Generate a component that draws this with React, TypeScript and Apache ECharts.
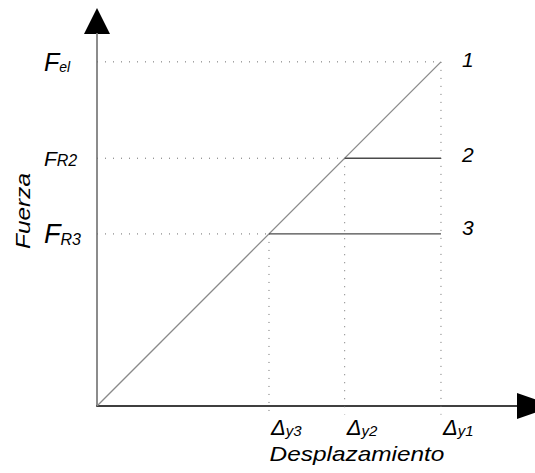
import React, { useEffect, useRef } from 'react';
import * as echarts from 'echarts';

// Curve numbers (1 = elastic, 2 and 3 = elastic-plastic)
const curveIds = ['1', '2', '3'];
// Yield displacements Δy1, Δy2, Δy3 (relative)
const displacement = [1.0, 0.72, 0.5];
// Forces Fel, FR2, FR3 (relative)
const force = [1.0, 0.72, 0.5];
const dispSubs = ['y1', 'y2', 'y3'];
const forceSubs = ['el', 'R2', 'R3'];
const xAxisMax = 1.221;
const yAxisMax = 1.081;
const guideDrop = -0.025;

const FONT = '"Liberation Sans", Arial, sans-serif';

export default function App() {
  const ref = useRef<HTMLDivElement>(null);
  useEffect(() => {
    if (!ref.current) return;
    const chart = echarts.init(ref.current, undefined, { renderer: 'svg' });

    const guideStyle = { color: '#6e6e6e', width: 1, type: [1, 7] as any };
    const guides: any[] = [];
    for (let i = 0; i < force.length; i++) {
      guides.push({
        type: 'line',
        data: [[0, force[i]], [displacement[i], force[i]]],
        showSymbol: false,
        symbol: 'none',
        lineStyle: guideStyle,
        clip: false,
        silent: true,
      });
      guides.push({
        type: 'line',
        data: [[displacement[i], force[i]], [displacement[i], guideDrop]],
        showSymbol: false,
        symbol: 'none',
        lineStyle: guideStyle,
        clip: false,
        silent: true,
      });
    }

    const endLabel = (t: string, dy: number) => ({
      show: true,
      formatter: t,
      distance: 21,
      offset: [0, dy],
      fontFamily: FONT,
      fontStyle: 'italic',
      fontSize: 21,
      color: '#000',
    });

    const curves: any[] = [
      {
        type: 'line',
        data: [[0, 0], [displacement[0], force[0]]],
        symbol: 'none',
        lineStyle: { color: '#8a8a8a', width: 1.3 },
        endLabel: endLabel(curveIds[0], -2),
        clip: false,
      },
      {
        type: 'line',
        data: [[displacement[1], force[1]], [displacement[0], force[1]]],
        symbol: 'none',
        lineStyle: { color: '#4a4a4a', width: 1.3 },
        endLabel: endLabel(curveIds[1], -4),
        clip: false,
      },
      {
        type: 'line',
        data: [[displacement[2], force[2]], [displacement[0], force[2]]],
        symbol: 'none',
        lineStyle: { color: '#4a4a4a', width: 1.3 },
        endLabel: endLabel(curveIds[2], -6),
        clip: false,
      },
    ];

    chart.setOption({
      animation: false,
      backgroundColor: '#fff',
      grid: { left: 97, right: 18, top: 34, bottom: 67, containLabel: false },
      xAxis: {
        type: 'value',
        min: 0,
        max: xAxisMax,
        splitLine: { show: false },
        axisTick: { show: false },
        axisLine: { show: true, lineStyle: { color: '#000', width: 1.5 } },
        axisLabel: {
          customValues: displacement,
          align: 'left',
          verticalAlign: 'top',
          margin: 10,
          padding: [0, 0, 0, 2],
          formatter: (v: number) => {
            const i = displacement.indexOf(v);
            return i < 0 ? '' : `{d|Δ}{s|${dispSubs[i]}}`;
          },
          rich: {
            d: { fontFamily: FONT, fontStyle: 'italic', fontSize: 22, color: '#000', verticalAlign: 'bottom' },
            s: { fontFamily: FONT, fontStyle: 'italic', fontSize: 15, color: '#000', verticalAlign: 'bottom' },
          },
        },
      },
      yAxis: {
        type: 'value',
        min: 0,
        max: yAxisMax,
        splitLine: { show: false },
        axisTick: { show: false },
        axisLine: { show: true, lineStyle: { color: '#8c8c8c', width: 2 } },
        axisLabel: {
          customValues: force,
          align: 'left',
          margin: 53,
          formatter: (v: number) => {
            const i = force.indexOf(v);
            if (i < 0) return '';
            return `{f${i}|F}{s${i}|${forceSubs[i]}}`;
          },
          rich: {
            f0: { fontFamily: FONT, fontStyle: 'italic', fontSize: 25, color: '#000', verticalAlign: 'bottom' },
            s0: { fontFamily: FONT, fontStyle: 'italic', fontSize: 14, color: '#000', verticalAlign: 'bottom' },
            f1: { fontFamily: FONT, fontStyle: 'italic', fontSize: 21, color: '#000', verticalAlign: 'bottom' },
            s1: { fontFamily: FONT, fontStyle: 'italic', fontSize: 16, color: '#000', verticalAlign: 'bottom' },
            f2: { fontFamily: FONT, fontStyle: 'italic', fontSize: 27, color: '#000', verticalAlign: 'bottom' },
            s2: { fontFamily: FONT, fontStyle: 'italic', fontSize: 16, color: '#000', verticalAlign: 'bottom' },
          },
        },
      },
      graphic: [
        {
          type: 'polygon',
          shape: { points: [[97, 8], [84, 34], [110, 34]] },
          style: { fill: '#000' },
          silent: true,
        },
        {
          type: 'polygon',
          shape: { points: [[517, 393], [517, 419], [554, 406]] },
          style: { fill: '#000' },
          silent: true,
        },
        {
          type: 'text',
          x: 357,
          y: 454,
          scaleX: 1.22,
          style: {
            text: 'Desplazamiento',
            font: `italic 20px ${FONT}`,
            fill: '#000',
            textAlign: 'center',
            textVerticalAlign: 'middle',
          },
        },
        {
          type: 'text',
          x: 23,
          y: 211,
          rotation: Math.PI / 2,
          scaleX: 1.22,
          style: {
            text: 'Fuerza',
            font: `italic 20px ${FONT}`,
            fill: '#000',
            textAlign: 'center',
            textVerticalAlign: 'middle',
          },
        },
      ],
      series: [...guides, ...curves],
    });

    return () => chart.dispose();
  }, []);

  return (
    <div
      ref={ref}
      style={{ position: 'absolute', left: 0, top: 0, width: 535, height: 473 }}
    />
  );
}
